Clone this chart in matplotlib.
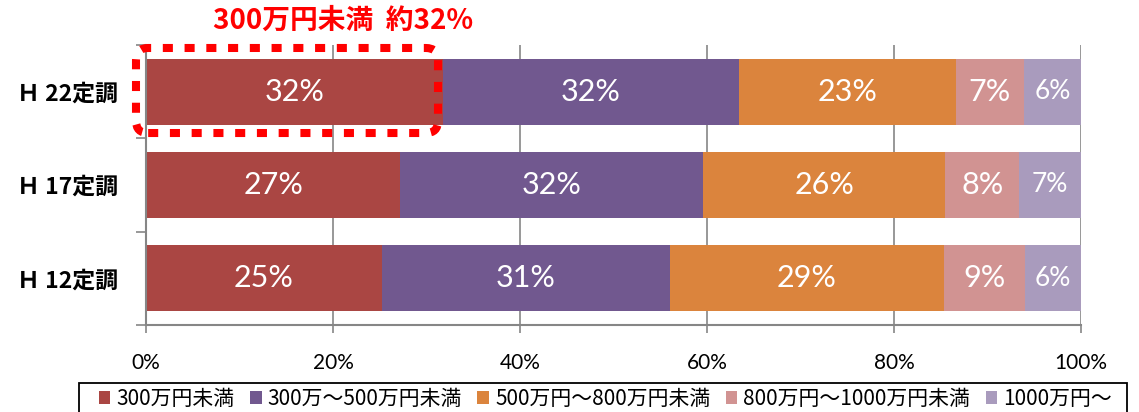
import matplotlib
matplotlib.use('Agg')
import matplotlib.pyplot as plt
from matplotlib.patches import FancyBboxPatch, Rectangle
import numpy as np

# survey rows, bottom to top
surveys = ['Ｈ 12定調', 'Ｈ 17定調', 'Ｈ 22定調']
brackets = ['300万円未満', '300万～500万円未満', '500万円～800万円未満',
            '800万円～1000万円未満', '1000万円～']
# share (%) per bracket, one list per survey row
shares = [
    [25.2, 30.8, 29.3, 8.7, 6.0],   # H12
    [27.2, 32.4, 25.9, 7.9, 6.6],   # H17
    [31.8, 31.6, 23.2, 7.3, 6.1],   # H22
]
labels = [
    ['25%', '31%', '29%', '9%', '6%'],
    ['27%', '32%', '26%', '8%', '7%'],
    ['32%', '32%', '23%', '7%', '6%'],
]
colors = ['#AA4643', '#71588F', '#DB843D', '#D19392', '#A99BBD']
xticks = [0, 20, 40, 60, 80, 100]
note = '300万円未満  約32%'

W, H = 1139, 412
jp = ['Noto Sans CJK JP', 'DejaVu Sans']
fig = plt.figure(figsize=(W / 100, H / 100), dpi=100)
ax = fig.add_axes([146 / W, 1 - 325 / H, (1081 - 146) / W, (325 - 45) / H])

grid_c = '#868686'
y = np.arange(len(surveys))
data = np.array(shares)
left = np.zeros(len(surveys))
for j, name in enumerate(brackets):
    bars = ax.barh(y, data[:, j], left=left, height=0.71, color=colors[j],
                   label=name, zorder=2, linewidth=0)
    for i, b in enumerate(bars):
        fs = 19 if j == 4 else 22
        ax.text(left[i] + data[i, j] / 2, y[i], labels[i][j], ha='center', va='center',
                color='white', fontsize=fs, family='Lato', zorder=3)
    left += data[:, j]

ax.set_xlim(0, 100)
ax.set_ylim(-0.5, 2.5)
ax.set_xticks(xticks)
ax.set_xticklabels([f'{v}%' for v in xticks], fontsize=15, family='Lato')
ax.tick_params(axis='x', length=6, width=1.2, color=grid_c, pad=14)
ax.grid(axis='x', color=grid_c, linewidth=1.2, zorder=0)

ax.set_yticks(y)
ax.set_yticklabels(surveys, fontsize=16.5, fontweight='bold', family=jp)
ax.tick_params(axis='y', length=0, pad=20)
ax.set_yticks([-0.5, 0.5, 1.5, 2.5], minor=True)
ax.tick_params(axis='y', which='minor', length=7, width=1.2, color=grid_c)

for s in ['top', 'right']:
    ax.spines[s].set_visible(False)
for s in ['left', 'bottom']:
    ax.spines[s].set_color(grid_c)
    ax.spines[s].set_linewidth(1.5)

# red dotted highlight around the H22 lowest bracket
box = FancyBboxPatch((-1.07, 1.557), 32.3, 0.911,
                     boxstyle='round,pad=0,rounding_size=1.3', mutation_aspect=0.1,
                     transform=ax.transData, fill=False, edgecolor='#FF0000',
                     linewidth=5.8, linestyle=(0, (1.25, 1.45)), clip_on=False, zorder=5)
box.set_capstyle('butt')
ax.add_patch(box)

fig.text(343 / W, 1 - 21 / H, note, color='#FF0000', fontsize=20, fontweight='bold',
         ha='center', va='center', family=jp)

# legend frame runs off the bottom of the image
fig.patches.append(Rectangle((79 / W, -0.05), (1127 - 79) / W, 0.05 + (412 - 383) / H,
                             transform=fig.transFigure, fill=False, edgecolor='black',
                             linewidth=1.3))
leg = fig.legend(loc='center left', bbox_to_anchor=(99 / W, 1 - 399 / H, (1112 - 99) / W, 0),
                 mode='expand', ncol=5, prop={'family': jp, 'size': 15},
                 frameon=False, handlelength=0.55, handleheight=0.55, handletextpad=0.3,
                 columnspacing=0.8, borderpad=0, borderaxespad=0)

fig.savefig('out.png', dpi=100)
